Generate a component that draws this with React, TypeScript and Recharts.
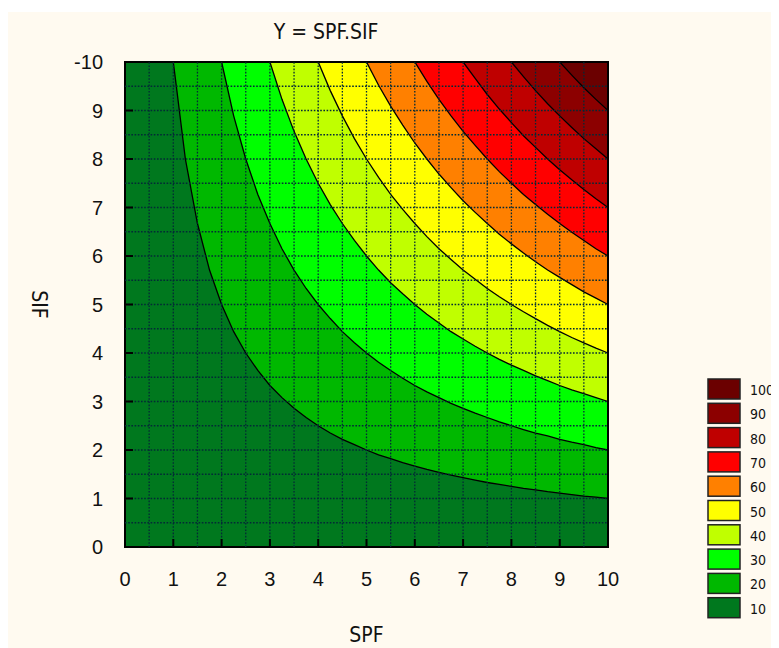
import { ComposedChart, Area, XAxis, YAxis, ReferenceLine, ReferenceArea, Legend } from "recharts";

// SPF sample positions along the x axis
const spf = [
  0, 0.25, 0.5, 0.75, 1, 1.25, 1.5, 1.75, 2, 2.25, 2.5, 2.75, 3, 3.25, 3.5, 3.75, 4, 4.25, 4.5, 4.75, 5,
  5.25, 5.5, 5.75, 6, 6.25, 6.5, 6.75, 7, 7.25, 7.5, 7.75, 8, 8.25, 8.5, 8.75, 9, 9.25, 9.5, 9.75, 10,
];

// SIF height of each contour line at those SPF positions (capped at the top of the plot)
const sif100 = [
  10, 10, 10, 10, 10, 10, 10, 10, 10, 10, 10, 10, 10, 10, 10, 10, 10, 10, 10, 10, 10,
  10, 10, 10, 10, 10, 10, 10, 10, 10, 10, 10, 10, 10, 10, 10, 10, 10, 10, 10, 10,
];
const sif90 = [
  10, 10, 10, 10, 10, 10, 10, 10, 10, 10, 10, 10, 10, 10, 10, 10, 10, 10, 10, 10, 10,
  10, 10, 10, 10, 10, 10, 10, 10, 10, 10, 10, 10, 10, 10, 10, 10, 9.73, 9.47, 9.23, 9,
];
const sif80 = [
  10, 10, 10, 10, 10, 10, 10, 10, 10, 10, 10, 10, 10, 10, 10, 10, 10, 10, 10, 10, 10,
  10, 10, 10, 10, 10, 10, 10, 10, 10, 10, 10, 10, 9.7, 9.41, 9.14, 8.89, 8.65, 8.42, 8.21, 8,
];
const sif70 = [
  10, 10, 10, 10, 10, 10, 10, 10, 10, 10, 10, 10, 10, 10, 10, 10, 10, 10, 10, 10, 10,
  10, 10, 10, 10, 10, 10, 10, 10, 9.66, 9.33, 9.03, 8.75, 8.48, 8.24, 8, 7.78, 7.57, 7.37, 7.18, 7,
];
const sif60 = [
  10, 10, 10, 10, 10, 10, 10, 10, 10, 10, 10, 10, 10, 10, 10, 10, 10, 10, 10, 10, 10,
  10, 10, 10, 10, 9.6, 9.23, 8.89, 8.57, 8.28, 8, 7.74, 7.5, 7.27, 7.06, 6.86, 6.67, 6.49, 6.32, 6.15, 6,
];
const sif50 = [
  10, 10, 10, 10, 10, 10, 10, 10, 10, 10, 10, 10, 10, 10, 10, 10, 10, 10, 10, 10, 10,
  9.52, 9.09, 8.7, 8.33, 8, 7.69, 7.41, 7.14, 6.9, 6.67, 6.45, 6.25, 6.06, 5.88, 5.71, 5.56, 5.41, 5.26, 5.13, 5,
];
const sif40 = [
  10, 10, 10, 10, 10, 10, 10, 10, 10, 10, 10, 10, 10, 10, 10, 10, 10, 9.41, 8.89, 8.42, 8,
  7.62, 7.27, 6.96, 6.67, 6.4, 6.15, 5.93, 5.71, 5.52, 5.33, 5.16, 5, 4.85, 4.71, 4.57, 4.44, 4.32, 4.21, 4.1, 4,
];
const sif30 = [
  10, 10, 10, 10, 10, 10, 10, 10, 10, 10, 10, 10, 10, 9.23, 8.57, 8, 7.5, 7.06, 6.67, 6.32, 6,
  5.71, 5.45, 5.22, 5, 4.8, 4.62, 4.44, 4.29, 4.14, 4, 3.87, 3.75, 3.64, 3.53, 3.43, 3.33, 3.24, 3.16, 3.08, 3,
];
const sif20 = [
  10, 10, 10, 10, 10, 10, 10, 10, 10, 8.89, 8, 7.27, 6.67, 6.15, 5.71, 5.33, 5, 4.71, 4.44, 4.21, 4,
  3.81, 3.64, 3.48, 3.33, 3.2, 3.08, 2.96, 2.86, 2.76, 2.67, 2.58, 2.5, 2.42, 2.35, 2.29, 2.22, 2.16, 2.11, 2.05, 2,
];
const sif10 = [
  10, 10, 10, 10, 10, 8, 6.67, 5.71, 5, 4.44, 4, 3.64, 3.33, 3.08, 2.86, 2.67, 2.5, 2.35, 2.22, 2.11, 2,
  1.9, 1.82, 1.74, 1.67, 1.6, 1.54, 1.48, 1.43, 1.38, 1.33, 1.29, 1.25, 1.21, 1.18, 1.14, 1.11, 1.08, 1.05, 1.03, 1,
];

const contours = [sif100, sif90, sif80, sif70, sif60, sif50, sif40, sif30, sif20, sif10];
const levels = ["100", "90", "80", "70", "60", "50", "40", "30", "20", "10"];
const bandColors = ["#6b0000", "#8c0000", "#bf0000", "#ff0000", "#ff8000", "#ffff00", "#c0ff00", "#00ff00", "#00b800", "#00781e"];

const axisTicks = [0, 1, 2, 3, 4, 5, 6, 7, 8, 9, 10];
const gridSteps = [0.5, 1, 1.5, 2, 2.5, 3, 3.5, 4, 4.5, 5, 5.5, 6, 6.5, 7, 7.5, 8, 8.5, 9, 9.5];

const tableData = spf.map((x, i) => {
  const row: Record<string, number> = { spf: x };
  levels.forEach((lv, k) => {
    row["l" + lv] = contours[k][i];
  });
  return row;
});

const numFont = "'Liberation Sans', Arial, sans-serif";
const labelFont = "'Liberation Sans Narrow', 'DejaVu Sans Condensed', 'Liberation Sans', sans-serif";
const gridColor = "#032a36";

const XTick = (props: any) => {
  const { x, y, payload } = props;
  return (
    <g>
      <line x1={x} x2={x} y1={y} y2={y - 8} stroke="#000" strokeWidth={2} />
      <text x={x} y={y + 39} textAnchor="middle" fontSize={20} fontFamily={numFont} fill="#111">
        {payload.value}
      </text>
    </g>
  );
};

const YTick = (props: any) => {
  const { x, y, payload } = props;
  const text = payload.value === 10 ? "-10" : String(payload.value);
  return (
    <g>
      <line x1={x} x2={x + 8} y1={y} y2={y} stroke="#000" strokeWidth={2} />
      <text x={x - 22} y={y + 7} textAnchor="end" fontSize={20} fontFamily={numFont} fill="#111">
        {text}
      </text>
    </g>
  );
};

const SifLabel = (props: any) => {
  const { viewBox } = props;
  const cx = 31;
  const cy = viewBox.y + viewBox.height / 2;
  return (
    <text
      x={cx}
      y={cy}
      transform={`rotate(90 ${cx} ${cy})`}
      textAnchor="middle"
      dominantBaseline="central"
      fontSize={21}
      fontFamily={labelFont}
      fill="#111"
    >
      SIF
    </text>
  );
};

const ColorKey = () => (
  <svg width={70} height={246}>
    {levels.map((lv, i) => (
      <g key={lv}>
        <rect x={1} y={1 + i * 24.3} width={32} height={20} fill={bandColors[i]} stroke="#222" strokeWidth={1.5} />
        <text x={43} y={1 + i * 24.3 + 16} fontSize={14} fontFamily={labelFont} fill="#111">
          {lv}
        </text>
      </g>
    ))}
  </svg>
);

export default function App() {
  return (
    <div style={{ position: "relative" }}>
      <svg width={779} height={12} style={{ position: "absolute", left: -8, top: -8 }}>
        <text x={620} y={2} fontSize={26} fontFamily="'Liberation Serif', serif" fill="#000">
          g
        </text>
      </svg>
      <div style={{ height: 4, background: "#fff" }} />
      <div style={{ position: "relative", width: 771, height: 636, background: "#fffaf0" }}>
        <div
          style={{
            position: "absolute",
            left: 318,
            top: 10,
            transform: "translateX(-50%)",
            fontFamily: labelFont,
            fontSize: 21,
            lineHeight: "20px",
            color: "#111",
            whiteSpace: "nowrap",
          }}
        >
          Y = SPF.SIF
        </div>
        <ComposedChart width={771} height={636} data={tableData} margin={{ top: 50, right: 171, bottom: 0, left: 0 }}>
          <XAxis
            dataKey="spf"
            type="number"
            domain={[0, 10]}
            ticks={axisTicks}
            interval={0}
            height={101}
            axisLine={false}
            tickLine={false}
            tickSize={0}
            tickMargin={0}
            tick={(p: any) => <XTick {...p} />}
            label={{ value: "SPF", position: "insideTop", offset: 80, fontSize: 21, fontFamily: labelFont, fill: "#111" }}
          />
          <YAxis
            type="number"
            domain={[0, 10]}
            ticks={axisTicks}
            interval={0}
            width={117}
            axisLine={false}
            tickLine={false}
            tickSize={0}
            tickMargin={0}
            tick={(p: any) => <YTick {...p} />}
            label={(p: any) => <SifLabel {...p} />}
          />
          {levels.map((lv, k) => (
            <Area
              key={lv}
              name={lv}
              type="linear"
              dataKey={"l" + lv}
              fill={bandColors[k]}
              fillOpacity={1}
              stroke="#000"
              strokeWidth={1.3}
              dot={false}
              activeDot={false}
              isAnimationActive={false}
            />
          ))}
          {gridSteps.map((v) => (
            <ReferenceLine key={"gx" + v} x={v} stroke={gridColor} strokeWidth={1.3} strokeDasharray="1.6 1.6" />
          ))}
          {gridSteps.map((v) => (
            <ReferenceLine key={"gy" + v} y={v} stroke={gridColor} strokeWidth={1.3} strokeDasharray="1.6 1.6" />
          ))}
          <ReferenceArea x1={0} x2={10} y1={0} y2={10} fill="none" fillOpacity={0} stroke="#000" strokeWidth={2} />
          <Legend
            layout="vertical"
            align="center"
            verticalAlign="middle"
            wrapperStyle={{ left: 699, top: 366, width: 70 }}
            content={() => <ColorKey />}
          />
        </ComposedChart>
      </div>
    </div>
  );
}
